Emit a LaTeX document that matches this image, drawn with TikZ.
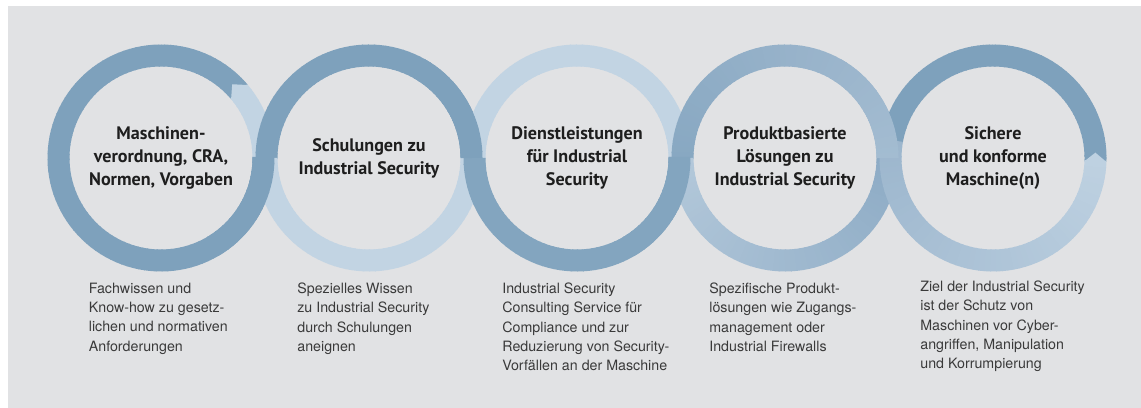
\documentclass[tikz,border=0pt]{standalone}
\usepackage{fontspec}
\setmainfont{TeX Gyre Heros}
\newfontfamily\headfont{PT Sans}

\definecolor{panel}{HTML}{E1E2E4}
\definecolor{ringdark}{HTML}{7EA1BC}
\definecolor{ringlight}{HTML}{C2D4E3}
\definecolor{ringthree}{HTML}{83A5BF}
\definecolor{fourA}{HTML}{A3BCD1}
\definecolor{fourB}{HTML}{9BB5CC}
\definecolor{fourC}{HTML}{88A8C2}
\definecolor{fourD}{HTML}{B3C8DA}
\definecolor{fourE}{HTML}{8DABC5}
\definecolor{fiveA}{HTML}{9CB6CD}
\definecolor{fiveB}{HTML}{BED1E1}
\definecolor{textdark}{HTML}{1E1E1E}
\definecolor{textgrey}{HTML}{3A3A3A}

% ring piece from angle #3 up to #4 round (#1,#2), colour runs from #5 to #6
\newcommand{\ringarc}[6]{%
  \pgfmathtruncatemacro{\nsteps}{max(1,round((#4-#3)/3))}%
  \pgfmathsetmacro{\stp}{(#4-#3)/\nsteps}%
  \foreach \i in {1,...,\nsteps}{%
    \pgfmathsetmacro{\aa}{#3+\stp*(\i-1)}%
    \pgfmathsetmacro{\bb}{#3+\stp*\i+0.6}%
    \pgfmathtruncatemacro{\pc}{(\i-0.5)/\nsteps*100}%
    \draw[line width=0.44cm, draw=#6!\pc!#5] (#1,#2) ++(\aa:102.5) arc[start angle=\aa, end angle=\bb, radius=102.5];%
  }%
}

\begin{document}
\begin{tikzpicture}[x=0.02cm,y=0.02cm]
    \tikzstyle{title}=[font=\headfont\bfseries\fontsize{10.3}{13}\selectfont, text=textdark, align=center, inner sep=0pt]
    \tikzstyle{desc}=[font=\fontsize{8.1}{11}\selectfont, text=textgrey, align=left, anchor=north west, inner sep=0pt]

    \fill[white] (0,0) rectangle (1141,408);
    \fill[panel] (8,0) rectangle (1141,402);

    % ring 1
    \ringarc{161}{250}{40}{360}{ringdark}{ringdark}
    \ringarc{161}{250}{0}{40}{ringlight}{ringlight}
    \fill[ringlight] ([shift={(40:91.5)}]161,250) -- ([shift={(40:113.5)}]161,250) -- ([shift={(46:102.5)}]161,250) -- cycle;
    % ring 2
    \ringarc{369}{250}{0}{180}{ringdark}{ringdark}
    \ringarc{369}{250}{180}{360}{ringlight}{ringlight}
    \ringarc{161}{250}{300}{360}{ringdark}{ringdark}
    % ring 3
    \ringarc{577}{250}{0}{180}{ringlight}{ringlight}
    \ringarc{577}{250}{180}{360}{ringthree}{ringthree}
    \ringarc{369}{250}{0}{60}{ringdark}{ringdark}
    % ring 4
    \ringarc{785}{250}{0}{60}{fourA}{fourB}
    \ringarc{785}{250}{60}{180}{fourB}{fourC}
    \ringarc{785}{250}{180}{360}{fourD}{fourE}
    \ringarc{577}{250}{300}{360}{ringthree}{ringthree}
    % ring 5
    \ringarc{993}{250}{-2}{170}{ringdark}{ringdark}
    \ringarc{993}{250}{170}{358}{fiveA}{fiveB}
    \fill[fiveB] ([shift={(-2:91.5)}]993,250) -- ([shift={(-2:113.5)}]993,250) -- ([shift={(3:102.5)}]993,250) -- cycle;
    \ringarc{785}{250}{0}{60}{fourA}{fourB}

    \node[title] (t1) at (161,250) {Maschinen-\\verordnung, CRA,\\Normen, Vorgaben};
    \node[title] (t2) at (369,250) {Schulungen zu\\Industrial Security};
    \node[title] (t3) at (577,250) {Dienstleistungen\\für Industrial\\Security};
    \node[title] (t4) at (785,250) {Produktbasierte\\Lösungen zu\\Industrial Security};
    \node[title] (t5) at (993,250) {Sichere\\und konforme\\Maschine(n)};

    \node[desc] (d1) at (88.5,125.5) {Fachwissen und\\Know-how zu gesetz-\\lichen und normativen\\Anforderungen};
    \node[desc] (d2) at (297,125.5) {Spezielles Wissen\\zu Industrial Security\\durch Schulungen\\aneignen};
    \node[desc] (d3) at (502,125.5) {Industrial Security\\Consulting Service für\\Compliance und zur\\Reduzierung von Security-\\Vorfällen an der Maschine};
    \node[desc] (d4) at (709,125.5) {Spezifische Produkt-\\lösungen wie Zugangs-\\management oder\\Industrial Firewalls};
    \node[desc] (d5) at (920,127.5) {Ziel der Industrial Security\\ist der Schutz von\\Maschinen vor Cyber-\\angriffen, Manipulation\\und Korrumpierung};
\end{tikzpicture}
\end{document}
